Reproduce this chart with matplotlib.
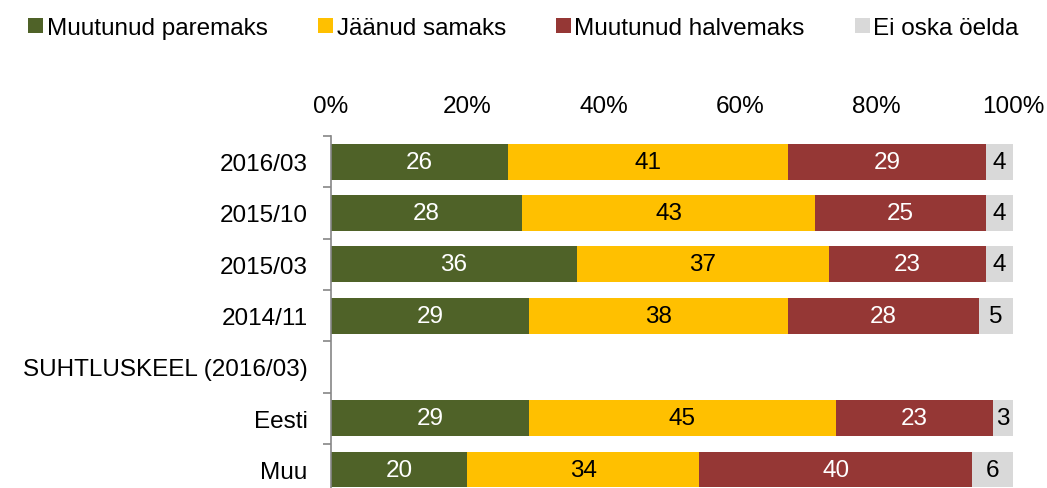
import numpy as np
import matplotlib.pyplot as plt
from matplotlib.ticker import FixedLocator

plt.rcParams['font.family'] = ['Liberation Sans', 'DejaVu Sans']

categories = ['2016/03', '2015/10', '2015/03', '2014/11', 'SUHTLUSKEEL (2016/03)', 'Eesti', 'Muu']
paremaks = [26, 28, 36, 29, None, 29, 20]
samaks = [41, 43, 37, 38, None, 45, 34]
halvemaks = [29, 25, 23, 28, None, 23, 40]
ei_oska = [4, 4, 4, 5, None, 3, 6]

series_names = ['Muutunud paremaks', 'Jäänud samaks', 'Muutunud halvemaks', 'Ei oska öelda']
colors = ['#4F6228', '#FFC000', '#953735', '#D9D9D9']
text_colors = ['white', 'black', 'white', 'black']
fs = 17.5

fig = plt.figure(figsize=(10.47, 4.89), dpi=100)
ax = fig.add_axes([331 / 1047, 0, 682 / 1047, 1 - 137 / 489])

y = np.arange(len(categories))
data = [paremaks, samaks, halvemaks, ei_oska]
left = np.zeros(len(categories))
for vals, name, col, tcol in zip(data, series_names, colors, text_colors):
    v = np.array([0 if x is None else x for x in vals], dtype=float)
    ax.barh(y, v, left=left, height=0.7, color=col, label=name, edgecolor='none')
    for i, val in enumerate(vals):
        if val is not None:
            ax.text(left[i] + val / 2, y[i], str(val), ha='center', va='center',
                    color=tcol, fontsize=fs)
    left += v

ax.set_xlim(0, 100)
ax.set_ylim(6.36, -0.5)
ax.xaxis.tick_top()
ax.set_xticks([0, 20, 40, 60, 80, 100])
ax.set_xticklabels(['0%', '20%', '40%', '60%', '80%', '100%'], fontsize=fs)
ax.tick_params(axis='x', length=0, pad=14)
ax.set_yticks(y)
ax.set_yticklabels(categories, fontsize=fs)
ax.tick_params(axis='y', which='major', length=0, pad=17)
ax.yaxis.set_minor_locator(FixedLocator(np.arange(-0.5, 6.5, 1)))
ax.tick_params(axis='y', which='minor', length=6, color='#868686', width=1.2)
for s in ['top', 'right', 'bottom']:
    ax.spines[s].set_visible(False)
ax.spines['left'].set_color('#868686')
ax.spines['left'].set_linewidth(1.2)

fig.legend(loc='center', bbox_to_anchor=(0.5, 1 - 29 / 489), ncol=4, frameon=False,
           fontsize=fs, handlelength=0.62, handleheight=0.62, handletextpad=0.15,
           columnspacing=2.05)

fig.savefig('out.png', dpi=100)
